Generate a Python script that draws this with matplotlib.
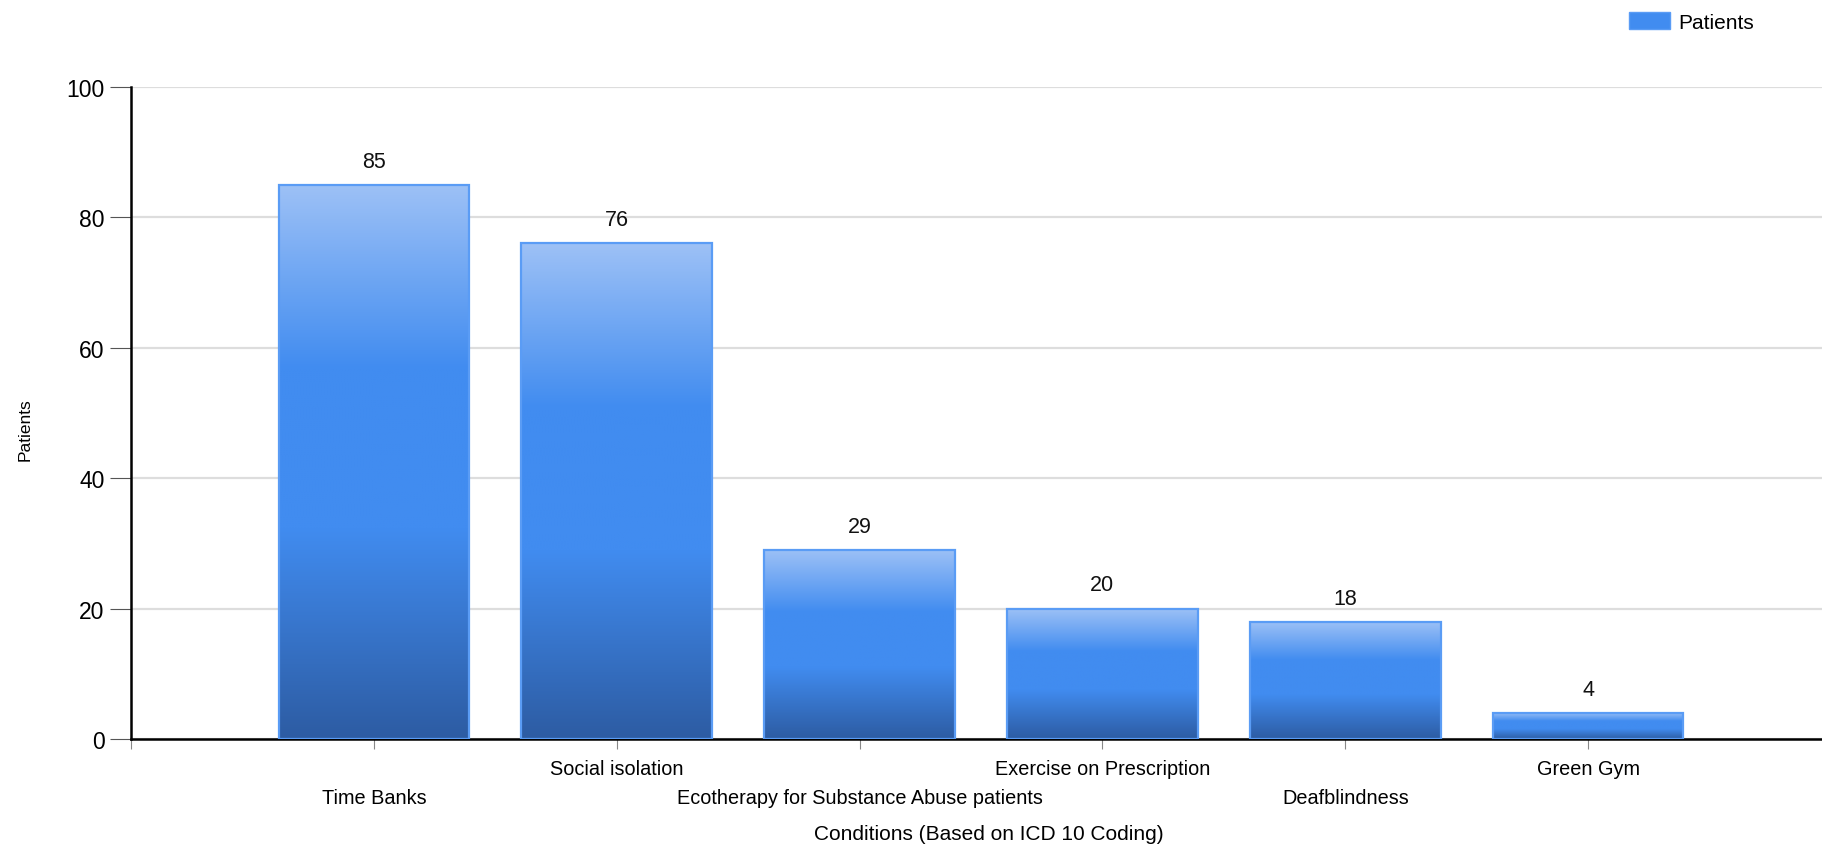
import numpy as np
import matplotlib.pyplot as plt
from matplotlib.colors import LinearSegmentedColormap
from matplotlib.patches import Patch

plt.rcParams['font.family'] = ['Liberation Sans', 'DejaVu Sans']

# data
conditions = ['Time Banks', 'Social isolation', 'Ecotherapy for Substance Abuse patients',
              'Exercise on Prescription', 'Deafblindness', 'Green Gym']
patients = [85, 76, 29, 20, 18, 4]
y_ticks = [0, 20, 40, 60, 80, 100]

bar_cmap = LinearSegmentedColormap.from_list(
    'bar_grad', [(0.0, '#9dc1f6'), (0.33, '#418cf0'), (0.62, '#418cf0'), (1.0, '#2d5ca3')])
grad = np.linspace(0, 1, 256).reshape(-1, 1)

fig = plt.figure(figsize=(18.22, 8.45), dpi=100)
ax = fig.add_axes([131/1822, 105/845, 1 - 131/1822, 652/845])

x = np.arange(len(conditions))
width = 0.785
bars = ax.bar(x, patients, width=width, facecolor='none', edgecolor='#5a9cf5',
              linewidth=1.6, zorder=3)
for rect in bars:
    x0, w, h = rect.get_x(), rect.get_width(), rect.get_height()
    ax.imshow(grad, cmap=bar_cmap, aspect='auto', extent=(x0, x0 + w, 0, h),
              origin='upper', zorder=2, interpolation='bilinear')
    ax.annotate(f'{h:g}', (x0 + w / 2, h), xytext=(0, 17), textcoords='offset points',
                ha='center', va='center', fontsize=15.5, color='#111111')

ax.set_xlim(-1, 5.963)
ax.set_ylim(0, 100)

# gridlines / spines
ax.set_axisbelow(True)
ax.set_yticks(y_ticks)
ax.yaxis.grid(True, color='#dddddd', linewidth=1.6)
ax.spines['top'].set_visible(False)
ax.spines['right'].set_visible(False)
ax.spines['left'].set_linewidth(1.8)
ax.spines['bottom'].set_linewidth(1.8)
ax.tick_params(axis='y', length=15, width=0.8, color='#555555', pad=4, labelsize=16.5)

# staggered category labels: odd on top row (major), even on lower row (minor)
ax.set_xticks(x[1::2], [conditions[i] for i in x[1::2]])
ax.set_xticks(np.r_[-1, x[0::2]], [''] + [conditions[i] for i in x[0::2]], minor=True)
ax.tick_params(axis='x', which='both', length=7, width=0.8, color='#888888', labelsize=14.3)
ax.tick_params(axis='x', which='major', pad=7.5)
ax.tick_params(axis='x', which='minor', pad=28.5)

# lighter ticks at the origin
ax.yaxis.get_major_ticks()[0].tick1line.set_color('#bbbbbb')
ax.xaxis.get_minor_ticks()[0].tick1line.set_color('#bbbbbb')

ax.set_ylabel('Patients', fontsize=12.5)
ax.yaxis.set_label_coords(-0.058, 0.476)
ax.set_xlabel('Conditions (Based on ICD 10 Coding)', fontsize=15)
ax.xaxis.set_label_coords(0.507, -0.131)

fig.legend(handles=[Patch(facecolor='#418cf0', edgecolor='#5a9cf5')], labels=['Patients'],
           loc='upper left', bbox_to_anchor=(1629/1822, 1 - 13/845), frameon=False,
           fontsize=15, handlelength=1.95, handleheight=0.85, handletextpad=0.4,
           borderpad=0, borderaxespad=0)

fig.savefig('out.png', dpi=100)
